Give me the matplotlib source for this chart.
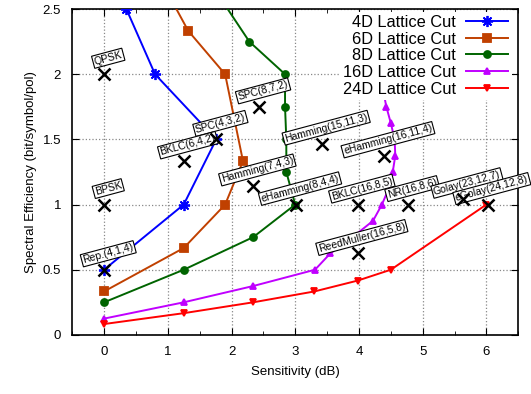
import numpy as np
import matplotlib.pyplot as plt
from matplotlib.ticker import MultipleLocator

plt.rcParams['font.family'] = ['Liberation Sans', 'DejaVu Sans']

# ── Lattice cuts (sensitivity dB, spectral efficiency) ──────────────
x4d = [0, 1.25, 1.76, 0.80, 0.35]
y4d = [0.5, 1.0, 1.5, 2.0, 2.5]

x6d = [0, 1.25, 1.90, 2.18, 1.90, 1.32, 0.95]
y6d = [1/3, 2/3, 1.0, 4/3, 2.0, 7/3, 8/3]

x8d = [0, 1.25, 2.34, 3.0, 2.86, 2.86, 2.84, 2.84, 2.28, 1.60]
y8d = [0.25, 0.5, 0.75, 1.0, 1.25, 1.5, 1.75, 2.0, 2.25, 2.75]

x16d = [0, 1.25, 2.34, 3.31, 3.55, 3.90, 4.22, 4.36, 4.47, 4.53, 4.57, 4.56, 4.50, 4.43, 4.38, 4.30]
y16d = [0.125, 0.25, 0.375, 0.5, 0.625, 0.75, 0.875, 1.0, 1.125, 1.25, 1.375, 1.5, 1.625, 1.75, 1.875, 2.0]

x24d = [0, 1.25, 2.34, 3.30, 3.98, 4.50, 6.0]
y24d = [1/12, 2/12, 3/12, 4/12, 5/12, 6/12, 1.0]

# ── Reference codes ─────────────────────────────────────────────────
code_names = ["QPSK", "BPSK", "Rep.(4,1,4)", "SPC(4,3,2)", "BKLC(6,4,2)",
              "SPC(8,7,2)", "Hamming(7,4,3)", "Hamming(15,11,3)",
              "eHamming(16,11,4)", "eHamming(8,4,4)", "BKLC(16,8,5)",
              "NR(16,8,6)", "Golay(23,12,7)", "eGolay(24,12,8)",
              "ReedMuller(16,5,8)"]
code_x = [0, 0, 0, 1.76, 1.25, 2.43, 2.34, 3.42, 4.39, 3.01, 3.98,
          4.77, 5.63, 6.02, 3.98]
code_y = [2.0, 1.0, 0.5, 1.5, 1.333, 1.75, 1.143, 1.467, 1.375, 1.0, 1.0,
          1.0, 1.043, 1.0, 0.625]

fig = plt.figure(figsize=(5.31, 3.94), dpi=100)
ax = fig.add_axes([0.136, 0.150, 0.840, 0.827])

series = [
    (x4d, y4d, "4D Lattice Cut", "#0000FF", (8, 2, 0), 8),
    (x6d, y6d, "6D Lattice Cut", "#C04000", "s", 6),
    (x8d, y8d, "8D Lattice Cut", "#006400", "o", 5),
    (x16d, y16d, "16D Lattice Cut", "#C000FF", "^", 4),
    (x24d, y24d, "24D Lattice Cut", "#FF0000", "v", 4),
]
for xs, ys, lab, col, mk, ms in series:
    ax.plot(xs, ys, color=col, marker=mk, markersize=ms, lw=1.4,
            markeredgecolor=col, markeredgewidth=1.3, label=lab, zorder=3)

# code points
ax.plot(code_x, code_y, ls="none", marker="x", color="black",
        markersize=8, markeredgewidth=1.8, zorder=6)
for name, cx, cy in zip(code_names, code_x, code_y):
    ax.annotate(name, xy=(cx, cy), xytext=(3, 11.5), textcoords="offset points",
                ha="center", va="center", rotation=15, fontsize=7.5, zorder=5,
                bbox=dict(boxstyle="square,pad=0.12", fc="white", ec="black", lw=0.8))

ax.set_xlim(-0.5, 6.5)
ax.set_ylim(0, 2.5)
ax.xaxis.set_major_locator(MultipleLocator(1))
ax.xaxis.set_minor_locator(MultipleLocator(0.5))
ax.set_yticks([0, 0.5, 1, 1.5, 2, 2.5], ["0", "0.5", "1", "1.5", "2", "2.5"])
ax.tick_params(which="both", direction="in", top=True, right=True, labelsize=9.5)
ax.tick_params(which="major", length=5, pad=8)
ax.tick_params(which="minor", length=3)
ax.grid(True, which="major", ls=":", color="#888888", lw=0.9)
for sp in ax.spines.values():
    sp.set_linewidth(1.2)

ax.set_xlabel("Sensitivity (dB)", fontsize=9.5, labelpad=6)
ax.set_ylabel("Spectral Efficiency (bit/symbol/pol)", fontsize=9.5, labelpad=4)

leg = ax.legend(loc="upper right", bbox_to_anchor=(0.985, 0.992),
                markerfirst=False, frameon=True, fontsize=11.8,
                labelspacing=0.1, handlelength=2.6, handletextpad=0.6,
                borderaxespad=0.0, borderpad=0.2, fancybox=False)
leg.get_frame().set_edgecolor("none")
leg.get_frame().set_facecolor("white")
leg.get_frame().set_alpha(1.0)
leg.set_zorder(7)

fig.savefig("out.png", dpi=100, facecolor="white")
